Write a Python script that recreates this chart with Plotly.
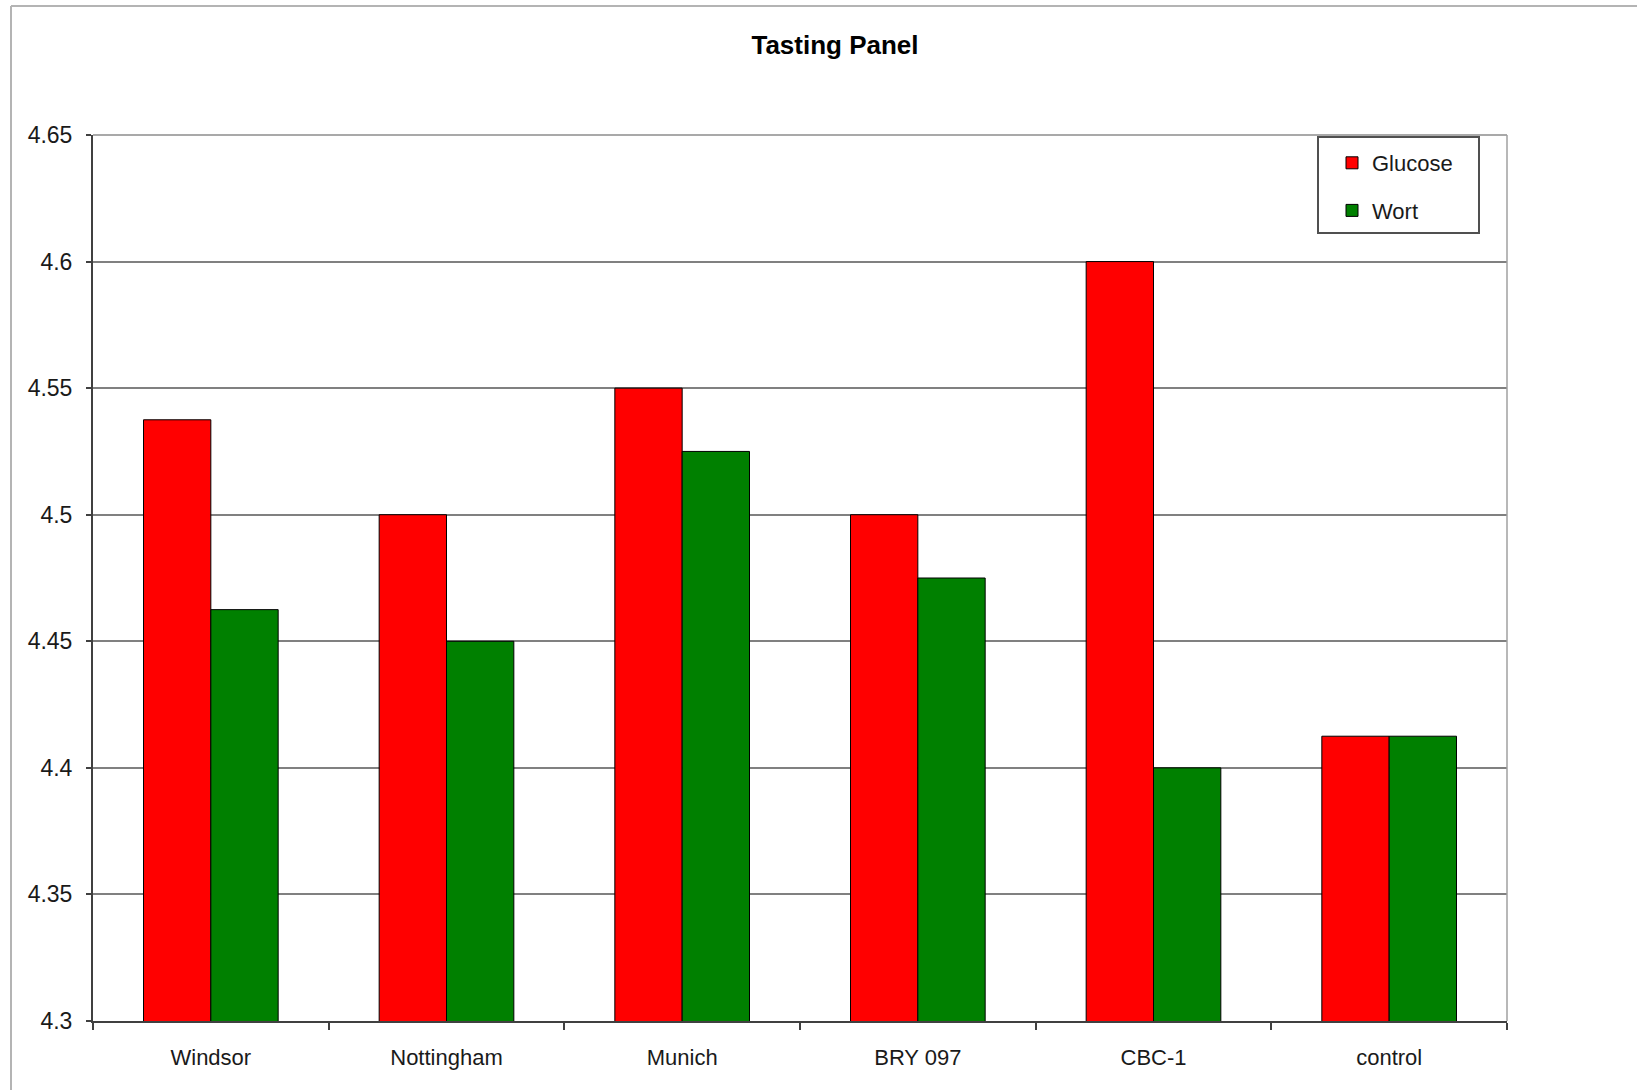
import plotly.graph_objects as go

categories = ["Windsor", "Nottingham", "Munich", "BRY 097", "CBC-1", "control"]
glucose = [4.5375, 4.5, 4.55, 4.5, 4.6, 4.4125]
wort = [4.4625, 4.45, 4.525, 4.475, 4.4, 4.4125]
y_ticks = [4.3, 4.35, 4.4, 4.45, 4.5, 4.55, 4.6, 4.65]
y_ticktext = ["4.3", "4.35", "4.4", "4.45", "4.5", "4.55", "4.6", "4.65"]

W, H = 1637, 1090
L, R, T, B = 93, 130, 135, 69
pw, ph = W - L - R, H - T - B


def px(x):
    return (x - L) / pw


def py(y):
    return (H - B - y) / ph


FONT = "Liberation Sans, Arial, sans-serif"

fig = go.Figure()
fig.add_trace(go.Bar(
    x=categories, y=glucose, name="Glucose",
    marker=dict(color="#FF0000", line=dict(color="#000000", width=1)),
    legendgroup="g",
))
fig.add_trace(go.Bar(
    x=categories, y=wort, name="Wort",
    marker=dict(color="#008000", line=dict(color="#000000", width=1)),
    legendgroup="w",
))

fig.update_layout(
    width=W, height=H,
    margin=dict(l=L, r=R, t=T, b=B, pad=0),
    paper_bgcolor="white", plot_bgcolor="white",
    barmode="group", bargap=1.5 / 3.5, bargroupgap=0,
    font=dict(family=FONT, size=22, color="#1a1a1a"),
    title=dict(
        text="<b>Tasting Panel</b>",
        font=dict(family=FONT, size=26, color="#000000"),
        x=835 / W, xanchor="center", xref="container",
        y=1 - 45 / H, yanchor="middle", yref="container",
    ),
    showlegend=True,
    legend=dict(
        x=px(1332), y=py(142), xanchor="left", yanchor="top",
        bgcolor="rgba(0,0,0,0)", borderwidth=0,
        font=dict(family=FONT, size=22, color="#1a1a1a"),
        traceorder="grouped", tracegroupgap=16,
    ),
    xaxis=dict(
        type="category", showgrid=False,
        showline=True, linecolor="#404040", linewidth=2,
        ticks="outside", ticklen=7, tickcolor="#404040", tickwidth=1.5,
        tickson="boundaries", ticklabelstandoff=16,
        tickfont=dict(family=FONT, size=22, color="#1a1a1a"),
    ),
    yaxis=dict(
        range=[4.3, 4.65], tickmode="array", tickvals=y_ticks, ticktext=y_ticktext,
        showgrid=True, gridcolor="#808080", gridwidth=1.5,
        showline=True, linecolor="#404040", linewidth=2,
        ticks="outside", ticklen=5, tickcolor="#404040", tickwidth=1.5,
        ticklabelstandoff=9, zeroline=False,
        tickfont=dict(family=FONT, size=23, color="#1a1a1a"),
    ),
    shapes=[
        # outer chart border (top and left)
        dict(type="line", xref="paper", yref="paper", x0=px(11), x1=px(W + 5), y0=py(6), y1=py(6),
             line=dict(color="#b4b4b4", width=2)),
        dict(type="line", xref="paper", yref="paper", x0=px(11), x1=px(11), y0=py(6), y1=py(H + 5),
             line=dict(color="#b4b4b4", width=2)),
        # plot area border (top and right)
        dict(type="line", xref="paper", yref="paper", x0=0, x1=1, y0=1, y1=1,
             line=dict(color="#8c8c8c", width=1.5)),
        dict(type="line", xref="paper", yref="paper", x0=1, x1=1, y0=0, y1=1,
             line=dict(color="#a0a0a0", width=1.5)),
        # legend box
        dict(type="rect", xref="paper", yref="paper", x0=px(1318), x1=px(1479), y0=py(233), y1=py(137),
             line=dict(color="#505050", width=2), fillcolor="white", layer="below"),
    ],
)

fig.write_html("out.html")
